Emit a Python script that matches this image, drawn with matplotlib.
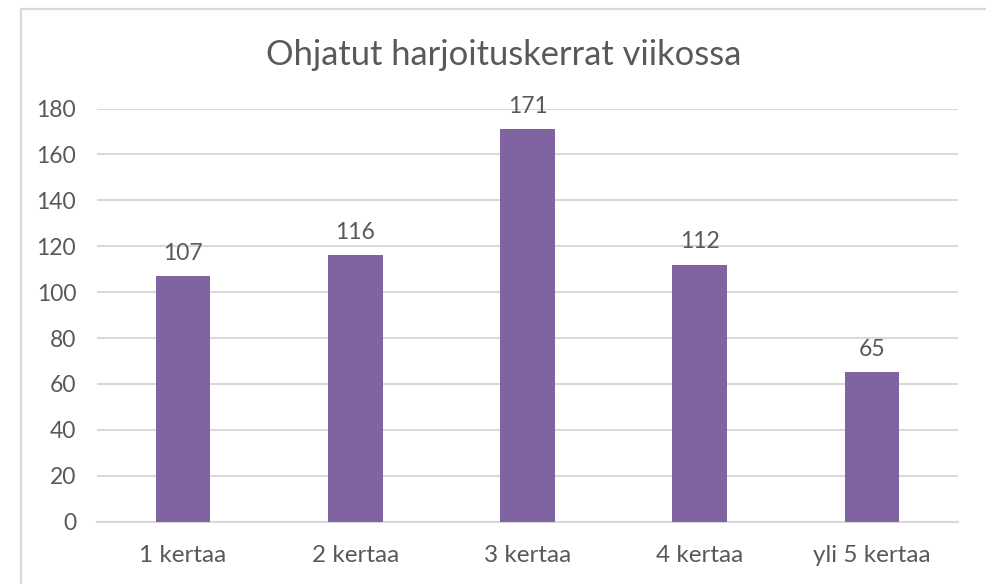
import matplotlib
matplotlib.use("Agg")
import matplotlib.pyplot as plt
from matplotlib.patches import Rectangle

categories = ["1 kertaa", "2 kertaa", "3 kertaa", "4 kertaa", "yli 5 kertaa"]
values = [107, 116, 171, 112, 65]
yticks = [0, 20, 40, 60, 80, 100, 120, 140, 160, 180]
title = "Ohjatut harjoituskerrat viikossa"

plt.rcParams['font.family'] = ['Lato', 'DejaVu Sans']
text_color = '#595959'
grid_color = '#d9d9d9'
bar_color = '#8064a2'

fig = plt.figure(figsize=(9.86, 5.84), dpi=100)
# chart frame (cropped on right and bottom)
fig.patches.append(Rectangle((21 / 986, -0.1), 1.2, 1.1 - 9 / 584, transform=fig.transFigure,
                             fill=False, edgecolor=grid_color, linewidth=1.6))

ax = fig.add_axes([97 / 986, 62.3 / 584, 861 / 986, 413.2 / 584])
x = range(len(categories))
bars = ax.bar(x, values, width=0.316, color=bar_color, zorder=3)
for b, v in zip(bars, values):
    ax.annotate(str(v), (b.get_x() + b.get_width() / 2, v), xytext=(0, 9),
                textcoords='offset points', ha='center', va='bottom',
                fontsize=16.5, color=text_color)

ax.set_xlim(-0.5, len(categories) - 0.5)
ax.set_ylim(0, 180)
ax.set_yticks(yticks)
ax.set_xticks(list(x))
ax.set_xticklabels(categories, fontsize=17.5)
ax.tick_params(axis='both', length=0, labelcolor=text_color)
ax.tick_params(axis='y', pad=15, labelsize=16.5)
ax.tick_params(axis='x', pad=17)
ax.grid(axis='y', color=grid_color, linewidth=1.5, zorder=0)
for s in ['top', 'right', 'left']:
    ax.spines[s].set_visible(False)
ax.spines['bottom'].set_color(grid_color)
ax.spines['bottom'].set_linewidth(1.5)

fig.text(504 / 986, 1 - 55 / 584, title, ha='center', va='center', fontsize=24.8, color=text_color)

fig.savefig('out.png', dpi=100)
